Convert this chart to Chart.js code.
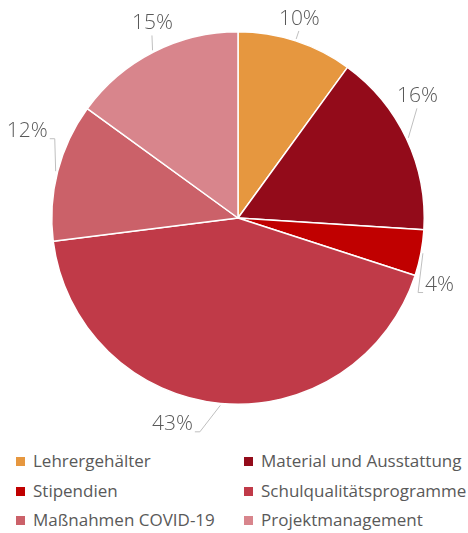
<!DOCTYPE html>
<html>
<head>
<meta charset="utf-8">
<script src="https://cdn.jsdelivr.net/npm/chart.js@4.4.1/dist/chart.umd.min.js"></script>
<style>
  body { margin: 0; background: #fff; }
  #wrap { position: relative; width: 468px; height: 533px; }
  #chartBox { position: absolute; left: 0; top: 0; width: 468px; height: 440px; }
  #legend { position: absolute; left: 0; top: 450px; width: 468px; font-family: "Open Sans", sans-serif; font-size: 17px; color: #595959; }
  .item { position: absolute; white-space: nowrap; line-height: 22px; }
  .item span.box { display: inline-block; width: 9px; height: 9px; margin-right: 8px; vertical-align: 1px; }
</style>
</head>
<body>
<div id="wrap">
  <div id="chartBox"><canvas id="pie"></canvas></div>
  <div id="legend"></div>
</div>
<script>
const categories = ['Lehrergehälter', 'Material und Ausstattung', 'Stipendien', 'Schulqualitätsprogramme', 'Maßnahmen COVID-19', 'Projektmanagement'];
const shares = [10, 16, 4, 43, 12, 15];
const colors = ['#E6973F', '#930B1A', '#C00000', '#C03A48', '#CB6169', '#D8858C'];

// label placement tweaks (text centre offsets from the radial spot) and leader side
const labelNudge = [[-3, -1], [-9, -33], [-3, 28], [-46, -1], [-9, -35], [9, -9]];
const labelSide = ['top', 'top', 'right', 'left', 'left', 'top'];

const pieLabels = {
  id: 'pieLabels',
  afterDraw(chart) {
    const ctx = chart.ctx;
    const meta = chart.getDatasetMeta(0);
    ctx.save();
    ctx.font = '300 21px "Open Sans", sans-serif';
    ctx.textAlign = 'center';
    ctx.textBaseline = 'middle';
    meta.data.forEach((arc, i) => {
      const { x, y, outerRadius, startAngle, endAngle } = arc.getProps(['x', 'y', 'outerRadius', 'startAngle', 'endAngle'], true);
      const mid = (startAngle + endAngle) / 2;
      const rr = outerRadius + 22;
      const lx = x + Math.cos(mid) * rr + labelNudge[i][0];
      const ly = y + Math.sin(mid) * rr + labelNudge[i][1];
      const text = shares[i] + '%';
      const w = ctx.measureText(text).width;
      // leader ends just outside the slice edge at its middle angle
      const edgeX = x + Math.cos(mid) * (outerRadius + 2);
      const edgeY = y + Math.sin(mid) * (outerRadius + 2);

      ctx.strokeStyle = '#BFBFBF';
      ctx.lineWidth = 1;
      ctx.beginPath();
      if (labelSide[i] === 'top') {
        ctx.moveTo(lx - 0.5, ly + 12);
        ctx.lineTo(edgeX, edgeY);
      } else {
        const dir = labelSide[i] === 'left' ? 1 : -1;
        const sx = lx + dir * (w / 2 + 2);
        const sy = ly + 7.5;
        const ex = sx + dir * 5;
        ctx.moveTo(sx, sy);
        ctx.lineTo(ex, sy);
        ctx.lineTo(edgeX, edgeY);
      }
      ctx.stroke();

      ctx.fillStyle = '#595959';
      ctx.fillText(text, lx, ly);
    });
    ctx.restore();
  }
};

new Chart(document.getElementById('pie'), {
  type: 'pie',
  data: {
    labels: categories,
    datasets: [{
      data: shares,
      backgroundColor: colors,
      borderColor: '#ffffff',
      borderWidth: 1.5
    }]
  },
  options: {
    responsive: true,
    maintainAspectRatio: false,
    animation: false,
    layout: { padding: { left: 51, right: 43, top: 31, bottom: 35 } },
    plugins: {
      legend: { display: false },
      tooltip: { enabled: false }
    }
  },
  plugins: [pieLabels]
});

// legend in two columns
const legend = document.getElementById('legend');
categories.forEach((name, i) => {
  const el = document.createElement('div');
  el.className = 'item';
  el.style.left = (i % 2 === 0 ? 16 : 244) + 'px';
  el.style.top = (Math.floor(i / 2) * 29.5) + 'px';
  el.innerHTML = '<span class="box" style="background:' + colors[i] + '"></span>' + name;
  legend.appendChild(el);
});
</script>
</body>
</html>
